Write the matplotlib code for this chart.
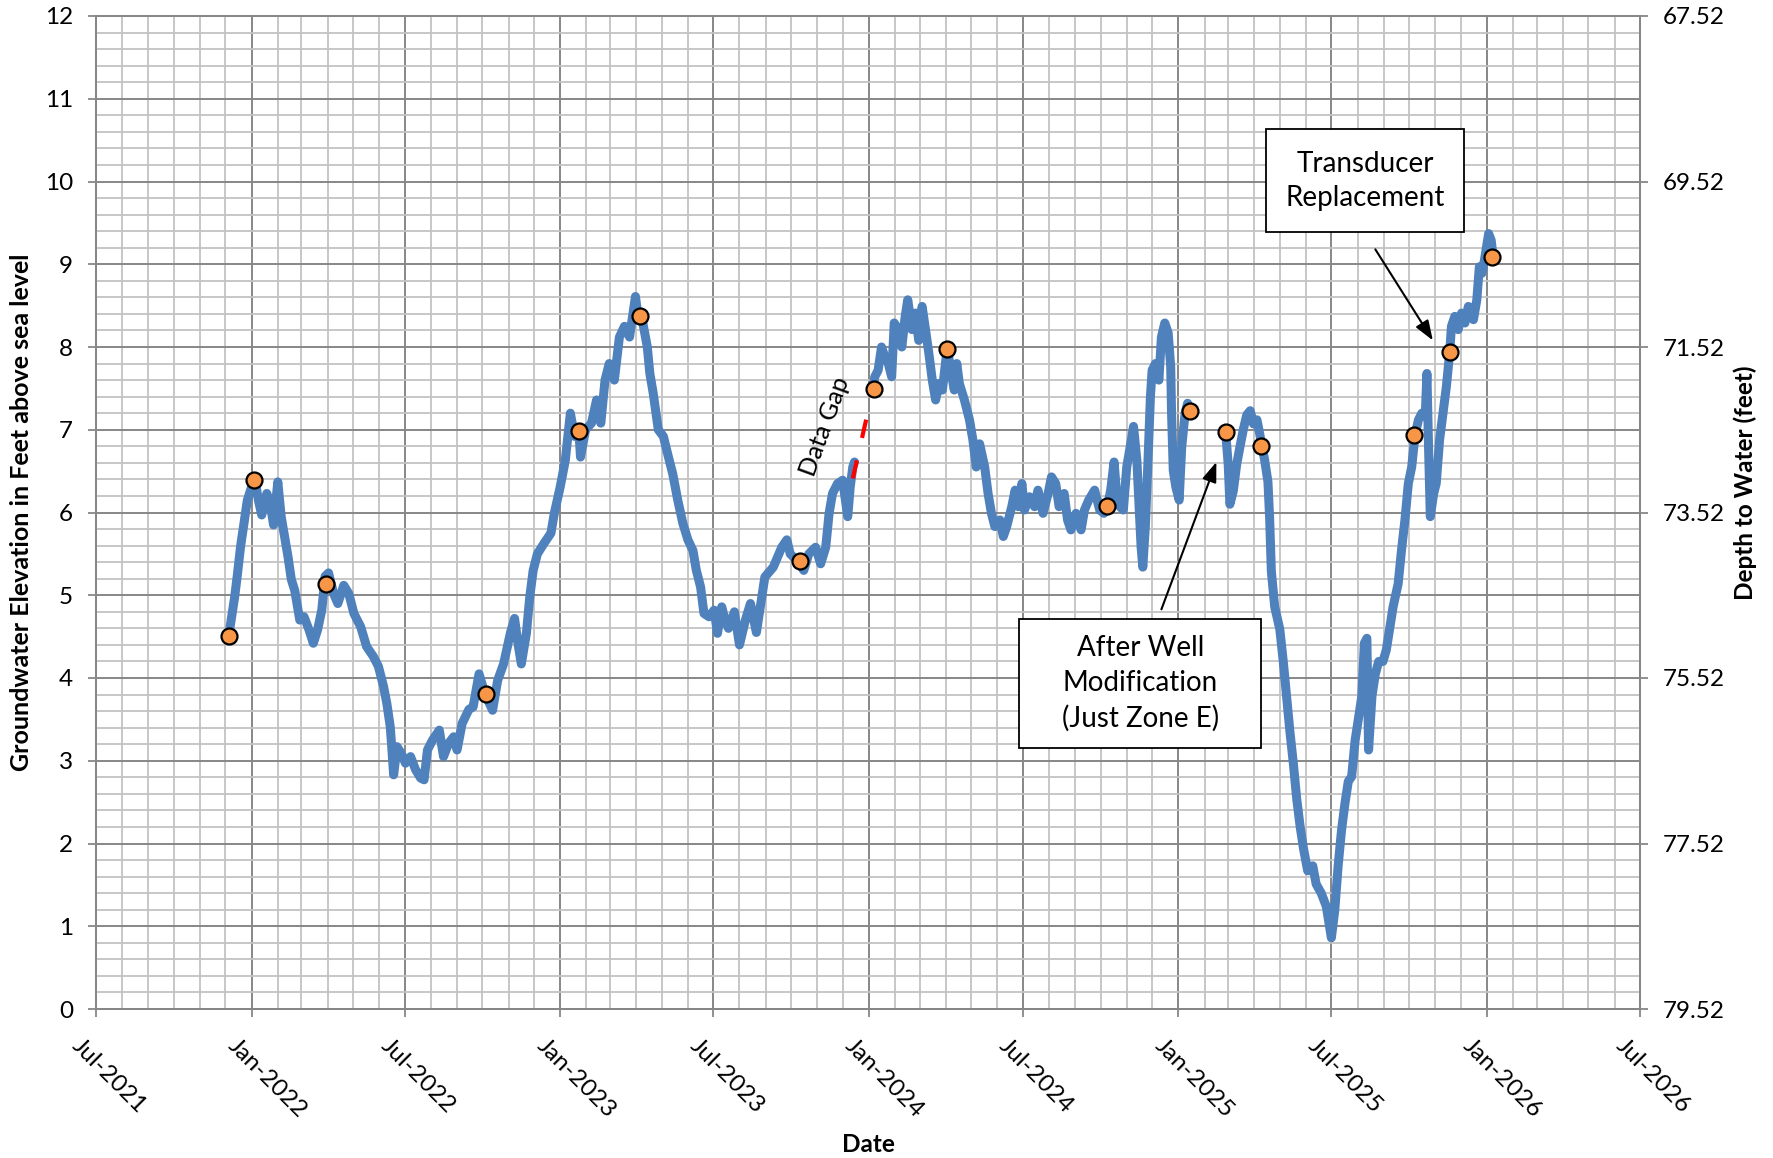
import numpy as np
import matplotlib.pyplot as plt
import matplotlib.dates as mdates
from matplotlib.ticker import MultipleLocator
from matplotlib.transforms import ScaledTranslation
from matplotlib.patches import Rectangle

plt.rcParams['font.family'] = ['Lato', 'DejaVu Sans']

# groundwater elevation (ft above sea level), first record
dates_a = ["2021-12-05", "2021-12-12", "2021-12-15", "2021-12-19", "2021-12-23", "2021-12-27",
           "2022-01-01", "2022-01-05", "2022-01-09", "2022-01-13", "2022-01-19", "2022-01-23",
           "2022-01-27", "2022-02-01", "2022-02-05", "2022-02-09", "2022-02-13", "2022-02-17",
           "2022-02-21", "2022-02-27", "2022-03-04", "2022-03-10", "2022-03-15", "2022-03-20",
           "2022-03-25", "2022-03-29", "2022-04-02", "2022-04-08", "2022-04-13", "2022-04-20",
           "2022-04-26", "2022-05-02", "2022-05-10", "2022-05-17", "2022-05-25", "2022-05-31",
           "2022-06-06", "2022-06-10", "2022-06-14", "2022-06-16", "2022-06-18", "2022-06-22",
           "2022-06-27", "2022-07-02", "2022-07-08", "2022-07-14", "2022-07-20", "2022-07-24",
           "2022-07-28", "2022-08-03", "2022-08-11", "2022-08-16", "2022-08-22", "2022-08-28",
           "2022-09-01", "2022-09-07", "2022-09-15", "2022-09-20", "2022-09-27", "2022-10-04",
           "2022-10-13", "2022-10-19", "2022-10-26", "2022-11-03", "2022-11-08", "2022-11-12",
           "2022-11-16", "2022-11-22", "2022-11-26", "2022-11-30", "2022-12-05", "2022-12-13",
           "2022-12-21", "2022-12-25", "2023-01-01", "2023-01-07", "2023-01-13", "2023-01-18",
           "2023-01-23", "2023-01-25", "2023-01-31", "2023-02-07", "2023-02-13", "2023-02-18",
           "2023-02-23", "2023-02-28", "2023-03-06", "2023-03-12", "2023-03-18", "2023-03-24",
           "2023-03-28", "2023-03-31", "2023-04-03", "2023-04-08", "2023-04-14", "2023-04-17",
           "2023-04-21", "2023-04-27", "2023-05-03", "2023-05-09", "2023-05-14", "2023-05-20",
           "2023-05-26", "2023-06-01", "2023-06-07", "2023-06-11", "2023-06-16", "2023-06-20",
           "2023-06-26", "2023-07-02", "2023-07-06", "2023-07-11", "2023-07-15", "2023-07-19",
           "2023-07-26", "2023-08-01", "2023-08-08", "2023-08-14", "2023-08-21", "2023-08-27",
           "2023-08-31", "2023-09-10", "2023-09-20", "2023-09-26", "2023-09-30", "2023-10-10",
           "2023-10-16", "2023-10-22", "2023-10-30", "2023-11-05", "2023-11-11", "2023-11-15",
           "2023-11-19", "2023-11-25", "2023-12-01", "2023-12-07", "2023-12-10", "2023-12-13",
           "2023-12-15"]
level_a = [4.51, 4.98, 5.23, 5.59, 5.87, 6.15,
           6.31, 6.40, 6.15, 5.97, 6.23, 6.11,
           5.85, 6.37, 5.95, 5.71, 5.47, 5.19,
           5.06, 4.70, 4.74, 4.58, 4.42, 4.58,
           4.82, 5.23, 5.27, 5.02, 4.90, 5.12,
           5.02, 4.78, 4.62, 4.38, 4.26, 4.14,
           3.90, 3.69, 3.41, 3.13, 2.83, 3.17,
           3.09, 2.97, 3.05, 2.89, 2.79, 2.77,
           3.13, 3.25, 3.37, 3.05, 3.21, 3.29,
           3.13, 3.45, 3.62, 3.65, 4.05, 3.81,
           3.61, 3.97, 4.17, 4.54, 4.72, 4.42,
           4.17, 4.54, 4.98, 5.30, 5.50, 5.63,
           5.75, 5.99, 6.31, 6.63, 7.20, 6.92,
           7.00, 6.67, 7.00, 7.08, 7.36, 7.08,
           7.60, 7.80, 7.60, 8.12, 8.25, 8.12,
           8.40, 8.61, 8.37, 8.33, 8.00, 7.68,
           7.44, 7.00, 6.92, 6.67, 6.47, 6.15,
           5.87, 5.67, 5.54, 5.30, 5.10, 4.78,
           4.74, 4.82, 4.54, 4.86, 4.70, 4.60,
           4.80, 4.40, 4.70, 4.90, 4.55, 4.95,
           5.22, 5.34, 5.58, 5.67, 5.50, 5.40,
           5.30, 5.50, 5.58, 5.38, 5.58, 5.99,
           6.23, 6.35, 6.39, 5.95, 6.31, 6.55,
           6.61]

# missing data bridged with a red dashed line
gap_dates = ["2023-12-13", "2024-01-04"]
gap_level = [6.41, 7.40]

# second record
dates_b = ["2024-01-06", "2024-01-08", "2024-01-12", "2024-01-16", "2024-01-20", "2024-01-24",
           "2024-01-28", "2024-01-31", "2024-02-05", "2024-02-09", "2024-02-13", "2024-02-16",
           "2024-02-21", "2024-02-25", "2024-02-29", "2024-03-04", "2024-03-08", "2024-03-12",
           "2024-03-16", "2024-03-20", "2024-03-24", "2024-03-28", "2024-04-01", "2024-04-03",
           "2024-04-07", "2024-04-11", "2024-04-14", "2024-04-17", "2024-04-23", "2024-04-29",
           "2024-05-03", "2024-05-07", "2024-05-11", "2024-05-17", "2024-05-21", "2024-05-25",
           "2024-05-29", "2024-06-04", "2024-06-08", "2024-06-12", "2024-06-18", "2024-06-22",
           "2024-06-26", "2024-06-30", "2024-07-03", "2024-07-09", "2024-07-15", "2024-07-19",
           "2024-07-25", "2024-07-31", "2024-08-04", "2024-08-09", "2024-08-13", "2024-08-19",
           "2024-08-23", "2024-08-27", "2024-09-02", "2024-09-08", "2024-09-12", "2024-09-17",
           "2024-09-24", "2024-09-30", "2024-10-05", "2024-10-09", "2024-10-13", "2024-10-17",
           "2024-10-20", "2024-10-24", "2024-10-28", "2024-11-01", "2024-11-05", "2024-11-09",
           "2024-11-13", "2024-11-16", "2024-11-18", "2024-11-20", "2024-11-23", "2024-11-26",
           "2024-11-29", "2024-12-01", "2024-12-05", "2024-12-09", "2024-12-12", "2024-12-16",
           "2024-12-20", "2024-12-23", "2024-12-24", "2024-12-26", "2024-12-29", "2025-01-02",
           "2025-01-05", "2025-01-09", "2025-01-12", "2025-01-15"]
level_b = [7.49, 7.64, 7.72, 8.00, 7.88, 7.80,
           7.64, 8.29, 8.21, 8.00, 8.37, 8.57,
           8.21, 8.41, 8.08, 8.49, 8.21, 7.92,
           7.60, 7.36, 7.56, 7.48, 7.84, 7.97,
           7.72, 7.48, 7.80, 7.56, 7.36, 7.12,
           6.88, 6.55, 6.83, 6.55, 6.23, 5.99,
           5.83, 5.91, 5.71, 5.83, 6.07, 6.27,
           6.07, 6.35, 6.03, 6.19, 6.07, 6.27,
           5.99, 6.23, 6.43, 6.35, 6.07, 6.23,
           5.91, 5.79, 5.99, 5.79, 6.03, 6.15,
           6.27, 6.03, 5.99, 6.07, 6.27, 6.61,
           6.23, 6.07, 6.03, 6.55, 6.79, 7.04,
           6.63, 5.99, 5.58, 5.34, 5.83, 6.59,
           7.40, 7.72, 7.80, 7.60, 8.12, 8.29,
           8.17, 7.76, 7.20, 6.51, 6.31, 6.15,
           6.79, 7.20, 7.32, 7.23]

# after well modification (just zone E)
dates_c = ["2025-02-26", "2025-03-01", "2025-03-03", "2025-03-07", "2025-03-11", "2025-03-15",
           "2025-03-19", "2025-03-23", "2025-03-27", "2025-03-31", "2025-04-04", "2025-04-08",
           "2025-04-10", "2025-04-13", "2025-04-17", "2025-04-19", "2025-04-21", "2025-04-25",
           "2025-05-01", "2025-05-05", "2025-05-09", "2025-05-13", "2025-05-17", "2025-05-21",
           "2025-05-25", "2025-05-29", "2025-06-03", "2025-06-09", "2025-06-13", "2025-06-19",
           "2025-06-25", "2025-07-01", "2025-07-05", "2025-07-09", "2025-07-13", "2025-07-17",
           "2025-07-21", "2025-07-25", "2025-07-29", "2025-08-02", "2025-08-06", "2025-08-09",
           "2025-08-12", "2025-08-14", "2025-08-18", "2025-08-22", "2025-08-26", "2025-08-31",
           "2025-09-04", "2025-09-12", "2025-09-18", "2025-09-22", "2025-09-26", "2025-09-30",
           "2025-10-04", "2025-10-08", "2025-10-12", "2025-10-16", "2025-10-20", "2025-10-22",
           "2025-10-24", "2025-10-26", "2025-10-30", "2025-11-02", "2025-11-06", "2025-11-10",
           "2025-11-14", "2025-11-18", "2025-11-20", "2025-11-24", "2025-11-28", "2025-12-02",
           "2025-12-06", "2025-12-10", "2025-12-16", "2025-12-20", "2025-12-23", "2025-12-26",
           "2025-12-29", "2026-01-03", "2026-01-06", "2026-01-08"]
level_c = [6.97, 6.58, 6.10, 6.26, 6.58, 6.80,
           7.01, 7.18, 7.23, 7.07, 7.12, 6.91,
           6.80, 6.64, 6.37, 5.93, 5.29, 4.86,
           4.59, 4.21, 3.78, 3.35, 2.97, 2.54,
           2.21, 1.94, 1.67, 1.73, 1.51, 1.40,
           1.24, 0.86, 1.19, 1.73, 2.16, 2.48,
           2.75, 2.81, 3.24, 3.51, 3.78, 4.42,
           4.48, 3.13, 3.78, 4.05, 4.20, 4.20,
           4.34, 4.86, 5.14, 5.55, 5.91, 6.35,
           6.55, 6.94, 7.12, 7.20, 7.16, 7.68,
           6.76, 5.95, 6.23, 6.35, 6.88, 7.20,
           7.52, 7.94, 8.25, 8.37, 8.21, 8.41,
           8.29, 8.49, 8.33, 8.57, 8.97, 8.89,
           9.05, 9.37, 9.29, 9.12]

# manual measurements
manual_dates = ["2021-12-05", "2022-01-04", "2022-03-30", "2022-10-05", "2023-01-23", "2023-04-05",
                "2023-10-11", "2024-01-07", "2024-04-03", "2024-10-09", "2025-01-15", "2025-02-26",
                "2025-04-09", "2025-10-07", "2025-11-18", "2026-01-07"]
manual_level = [4.51, 6.39, 5.14, 3.81, 6.99, 8.37,
                5.41, 7.49, 7.97, 6.08, 7.23, 6.97,
                6.80, 6.94, 7.94, 9.09]

depth_ticks = [67.52, 69.52, 71.52, 73.52, 75.52, 77.52, 79.52]

blue = '#4F81BD'
major_grid = '#878787'
minor_grid = '#C3C3C3'


def d(lst):
    return np.array(lst, dtype='datetime64[D]')


fig = plt.figure(figsize=(17.74, 11.58), dpi=100)
ax = fig.add_axes([96 / 1774, 149 / 1158, 1544 / 1774, 993 / 1158])

ax.plot(d(dates_a), level_a, color=blue, lw=6.5, solid_capstyle='round', zorder=3)
ax.plot(d(dates_b), level_b, color=blue, lw=6.5, solid_capstyle='round', zorder=3)
ax.plot(d(dates_c), level_c, color=blue, lw=6.5, solid_capstyle='round', zorder=3)
ax.plot(d(gap_dates), gap_level, color='red', lw=3, ls=(0, (4.5, 5.5)), zorder=3)
ax.plot(d(manual_dates), manual_level, 'o', ms=11.5, mfc='#F79646', mec='black', mew=1.6, zorder=4)

ax.set_xlim(np.datetime64('2021-07-01'), np.datetime64('2026-07-01'))
ax.set_ylim(0, 12)
ax.xaxis.set_major_locator(mdates.MonthLocator(bymonth=[1, 7]))
ax.xaxis.set_minor_locator(mdates.MonthLocator())
ax.xaxis.set_major_formatter(mdates.DateFormatter('%b-%Y'))
ax.yaxis.set_major_locator(MultipleLocator(1))
ax.yaxis.set_minor_locator(MultipleLocator(0.2))

ax.set_axisbelow(True)
ax.grid(which='minor', color=minor_grid, lw=1.3)
ax.grid(which='major', color=major_grid, lw=1.4)
ax.tick_params(which='minor', length=0)
ax.tick_params(which='major', length=5.5, width=1.3, color=major_grid, labelsize=17.5, pad=11)
for s in ax.spines.values():
    s.set_color(major_grid)
    s.set_linewidth(1.4)

ax.tick_params(axis='x', pad=4)
shift = ScaledTranslation(-0.13, -0.13, fig.dpi_scale_trans)
for lab in ax.get_xticklabels():
    lab.set_rotation(-45)
    lab.set_ha('left')
    lab.set_va('top')
    lab.set_rotation_mode('anchor')
    lab.set_transform(lab.get_transform() + shift)

ax.set_xlabel('Date', fontsize=17.5, fontweight='bold')
ax.xaxis.set_label_coords(0.5, -0.125)
ax.set_ylabel('Groundwater Elevation in Feet above sea level', fontsize=18, fontweight='bold')
ax.yaxis.set_label_coords(-0.0405, 0.5)

ax2 = ax.twinx()
ax2.set_ylim(79.52, 67.52)
ax2.set_yticks(depth_ticks)
ax2.set_yticklabels([f'{v:.2f}' for v in depth_ticks])
ax2.tick_params(length=5.5, width=1.3, color=major_grid, labelsize=17.5, pad=11)
for s in ax2.spines.values():
    s.set_color(major_grid)
    s.set_linewidth(1.4)
ax.text(1.068, 0.53, 'Depth to Water (feet)', transform=ax.transAxes, rotation=90,
        ha='center', va='center', fontsize=17.5, fontweight='bold')

# annotations
ax.text(np.datetime64('2023-11-10'), 7.04, 'Data Gap', rotation=70, ha='center', va='center',
        fontsize=18, zorder=6)

ax.add_patch(Rectangle((0.598, 0.2628), 0.1564, 0.1299, transform=ax.transAxes,
                       fc='white', ec='black', lw=1.3, zorder=5))
ax.text(0.6763, 0.3278, 'After Well\nModification\n(Just Zone E)', transform=ax.transAxes,
        ha='center', va='center', fontsize=20, linespacing=1.4, zorder=6)
ax.annotate('', xy=(np.datetime64('2025-02-15'), 6.61), xytext=(np.datetime64('2024-12-12'), 4.83),
            arrowprops=dict(arrowstyle='-|>,head_length=0.6,head_width=0.22', color='black',
                            lw=1.5, mutation_scale=20, shrinkA=0, shrinkB=0), zorder=6)

ax.add_patch(Rectangle((0.758, 0.7822), 0.1281, 0.1037, transform=ax.transAxes,
                       fc='white', ec='black', lw=1.3, zorder=5))
ax.text(0.822, 0.834, 'Transducer\nReplacement', transform=ax.transAxes,
        ha='center', va='center', fontsize=20, linespacing=1.4, zorder=6)
ax.annotate('', xy=(np.datetime64('2025-10-29'), 8.08), xytext=(np.datetime64('2025-08-22'), 9.18),
            arrowprops=dict(arrowstyle='-|>,head_length=0.6,head_width=0.22', color='black',
                            lw=1.5, mutation_scale=20, shrinkA=0, shrinkB=0), zorder=6)

fig.savefig('out.png', dpi=100)
